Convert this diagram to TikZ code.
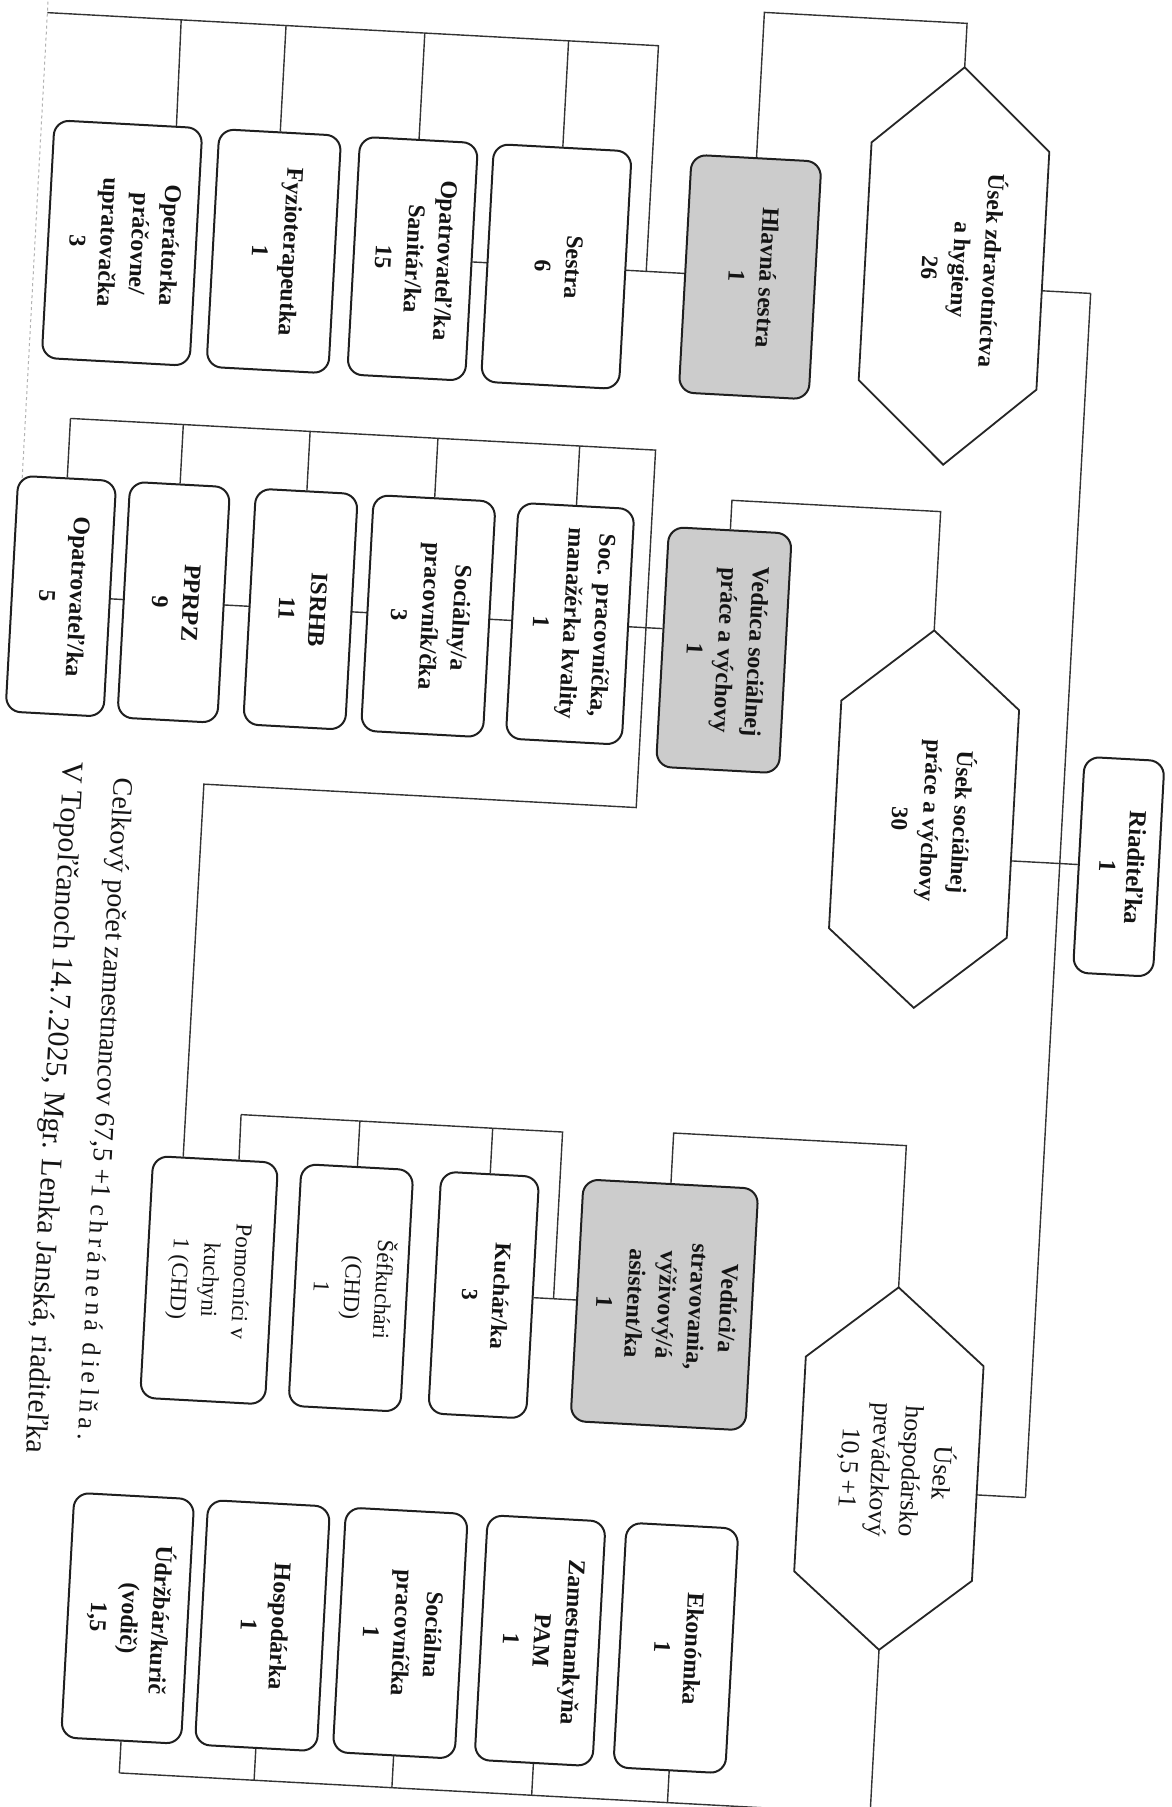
\documentclass[tikz,border=0pt]{standalone}
\usepackage{graphicx}
\usepackage{fontspec}
\setmainfont{Liberation Serif}
\usetikzlibrary{calc}
\pgfdeclarelayer{paper}
\pgfdeclarelayer{wires}
\pgfsetlayers{paper,wires,main}
\newcommand{\rt}[1]{\rotatebox{-90}{\begin{tabular}{@{}c@{}}#1\end{tabular}}}
\newcommand{\hexa}[4]{%
  \coordinate (#1tip) at (919,#2);
  \coordinate (#1bot) at (919,#3);
  \draw[hexline] (#1tip) -- (1008,#2+#4) -- (1008,#3-#4) -- (#1bot) -- (830,#3-#4) -- (830,#2+#4) -- cycle;
}
\begin{document}
\begin{tikzpicture}[x=1pt,y=-1pt,
  orgbox/.style={draw=black!88, line width=2pt, rounded corners=15pt, fill=white, inner sep=0pt,
                 font=\bfseries\fontsize{24}{31}\selectfont, text=black!92},
  leadbox/.style={orgbox, fill=black!20},
  lightbox/.style={orgbox, font=\fontsize{23}{31}\selectfont},
  hexline/.style={draw=black!85, line width=1.8pt, fill=white, line join=miter},
  hextext/.style={inner sep=0pt, font=\bfseries\fontsize{23.5}{31}\selectfont, text=black!92},
  conn/.style={draw=black!80, line width=1.4pt},
  pageedge/.style={draw=black!30, line width=1pt, dash pattern=on 3pt off 3pt},
  foot/.style={inner sep=0pt, anchor=west, rotate=-90, text=black!92}]
\useasboundingbox (0,0) rectangle (1171,1807);
\begin{pgfonlayer}{paper}
  \fill[white] (0,0) rectangle (1171,1807);
\end{pgfonlayer}

\begin{scope}[rotate around={-3.1:(585.5,903.5)}, transform shape]
  % ---------- director ----------
  \node[orgbox, minimum width=80pt, minimum height=216pt, font=\bfseries\fontsize{24.5}{28}\selectfont] (rd) at (1116,838) {\rt{Riaditeľka\\1}};

  % ---------- hexagons ----------
  \hexa{h1}{48}{446}{80}
  \hexa{h2}{612}{990}{75}
  \hexa{h3}{1270}{1633}{74}
  \node[hextext] (h1) at (924,250) {\rt{Úsek zdravotníctva\\a hygieny\\26}};
  \node[hextext] (h2) at (924,802) {\rt{Úsek sociálnej\\práce a výchovy\\30}};
  \node[hextext, font=\fontsize{26}{31}\selectfont] (h3) at (924,1453) {\rt{Úsek\\hospodársko\\prevádzkový\\10,5 +1}};

  % ---------- section 1 ----------
  \node[orgbox, minimum width=148pt, minimum height=238pt] (op) at (87,269) {\rt{Operátorka\\práčovne/\\upratovačka\\3}};
  \node[orgbox, minimum width=122pt, minimum height=238pt] (fy) at (239,269) {\rt{Fyzioterapeutka\\1}};
  \node[orgbox, minimum width=118pt, minimum height=238pt] (os) at (378,269) {\rt{Opatrovateľ/ka\\Sanitár/ka\\15}};
  \node[orgbox, minimum width=138pt, minimum height=238pt] (se) at (522,269) {\rt{Sestra\\6}};
  \node[leadbox, minimum width=130pt, minimum height=238pt] (hl) at (716,269) {\rt{Hlavná sestra\\1}};

  % ---------- section 2 ----------
  \node[orgbox, minimum width=98pt, minimum height=236pt] (o5) at (45,625) {\rt{Opatrovateľ/ka\\5}};
  \node[orgbox, minimum width=100pt, minimum height=236pt] (pp) at (158,625) {\rt{PPRPZ\\9}};
  \node[orgbox, minimum width=102pt, minimum height=236pt] (is) at (285,625) {\rt{ISRHB\\11}};
  \node[orgbox, minimum width=122pt, minimum height=236pt] (sc) at (413,625) {\rt{Sociálny/a\\pracovník/čka\\3}};
  \node[orgbox, minimum width=116pt, minimum height=236pt] (sp) at (555,625) {\rt{Soc. pracovníčka,\\manažérka kvality\\1}};
  \node[leadbox, minimum width=123pt, minimum height=240pt] (vd) at (710,643) {\rt{Vedúca sociálnej\\práce a výchovy\\1}};

  % ---------- section 3 ----------
  \node[lightbox, minimum width=125pt, minimum height=242pt] (pk) at (230,1300) {\rt{Pomocníci v\\kuchyni\\1 (CHD)}};
  \node[lightbox, minimum width=112pt, minimum height=242pt] (sk) at (372,1300) {\rt{Šéfkuchári\\(CHD)\\1}};
  \node[orgbox, minimum width=98pt, minimum height=242pt, font=\bfseries\fontsize{23}{31}\selectfont] (ku) at (505,1300) {\rt{Kuchár/ka\\3}};
  \node[leadbox, minimum width=175pt, minimum height=242pt] (vs) at (686,1300) {\rt{Vedúci/a\\stravovania,\\výživový/á\\asistent/ka\\1}};

  \node[orgbox, minimum width=120pt, minimum height=245pt] (ud) at (167,1642) {\rt{Údržbár/kurič\\(vodič)\\1,5}};
  \node[orgbox, minimum width=122pt, minimum height=245pt] (ho) at (302,1642) {\rt{Hospodárka\\1}};
  \node[orgbox, minimum width=122pt, minimum height=245pt] (so) at (440,1642) {\rt{Sociálna\\pracovníčka\\1}};
  \node[orgbox, minimum width=118pt, minimum height=245pt] (za) at (580,1642) {\rt{Zamestnankyňa\\PAM\\1}};
  \node[orgbox, minimum width=112pt, minimum height=245pt] (ek) at (716,1642) {\rt{Ekonómka\\1}};

  % ---------- footer ----------
  \node[foot, font=\fontsize{28}{34}\selectfont] (f1) at (115,803) {Celkový počet zamestnancov 67,5 +1 {\fontsize{26}{28}\selectfont\addfontfeatures{LetterSpace=18}chránená dielňa.}};
  \node[foot, font=\fontsize{30}{36}\selectfont] (f2) at (64,790) {V Topoľčanoch 14.7.2025, Mgr. Lenka Janská, riaditeľka};

  % ---------- connectors ----------
  \coordinate (tr1) at (1057,267);
  \coordinate (tr2) at (1057,838);
  \coordinate (tr3) at (1057,1473);
  \coordinate (h1r) at (1008,267);
  \coordinate (h2r) at (1008,838);
  \coordinate (h3r) at (1008,1473);
  \coordinate (t1a) at (919,4);   \coordinate (t1b) at (716,4);
  \coordinate (t2a) at (919,493); \coordinate (t2b) at (710,493);
  \coordinate (t3a) at (919,1128); \coordinate (t3b) at (686,1128);
  \coordinate (a0) at (0,43);   \coordinate (a1) at (134,43);  \coordinate (a2) at (239,43);
  \coordinate (a3) at (378,43); \coordinate (a4) at (522,43); \coordinate (a5) at (612,43);
  \coordinate (a6) at (612,269);
  \coordinate (b0) at (45,447);  \coordinate (b1) at (158,447); \coordinate (b2) at (285,447);
  \coordinate (b3) at (413,447); \coordinate (b4) at (555,447); \coordinate (b5) at (631,447);
  \coordinate (b6) at (631,805); \coordinate (b7) at (198,805);
  \coordinate (c0) at (253,1133); \coordinate (c1) at (372,1133); \coordinate (c2) at (505,1133);
  \coordinate (c3) at (575,1133); \coordinate (c4) at (575,1300);
  \coordinate (d0) at (167,1797); \coordinate (d1) at (302,1797); \coordinate (d2) at (440,1797);
  \coordinate (d3) at (580,1797); \coordinate (d4) at (716,1797); \coordinate (d5) at (919,1797);
  \coordinate (e0) at (0,-40); \coordinate (e1) at (0,720);

  \begin{pgfonlayer}{wires}
    % scanned page edge
    \draw[pageedge] (e0) -- (e1);
    % trunk and director
    \draw[conn] (tr1) -- (tr3);
    \draw[conn] (h1r) -- (tr1);
    \draw[conn] (h2r) -- (tr2) -- (rd.west);
    \draw[conn] (h3r) -- (tr3);
    % hexagon to lead boxes
    \draw[conn] (h1tip) -- (t1a) -- (t1b) -- (hl.north);
    \draw[conn] (h2tip) -- (t2a) -- (t2b) -- (vd.north);
    \draw[conn] (h3tip) -- (t3a) -- (t3b) -- (vs.north);
    % section 1
    \draw[conn] (a0) -- (a5) -- (a6);
    \draw[conn] (a1) -- ($(op.north west)!0.82!(op.north east)$);
    \draw[conn] (a2) -- (fy.north);
    \draw[conn] (a3) -- (os.north);
    \draw[conn] (a4) -- (se.north);
    \draw[conn] (os.east) -- (hl.west);
    % section 2
    \draw[conn] (b0) -- (b5) -- (b6) -- (b7) -- ($(pk.north west)!0.244!(pk.north east)$);
    \draw[conn] (b0) -- (o5.north);
    \draw[conn] (b1) -- (pp.north);
    \draw[conn] (b2) -- (is.north);
    \draw[conn] (b3) -- (sc.north);
    \draw[conn] (b4) -- (sp.north);
    \draw[conn] (o5.east) -- ($(vd.north west)!0.425!(vd.south west)$);
    % section 3
    \draw[conn] (c0) -- (c3) -- (c4);
    \draw[conn] (c0) -- ($(pk.north west)!0.684!(pk.north east)$);
    \draw[conn] (c1) -- (sk.north);
    \draw[conn] (c2) -- (ku.north);
    \draw[conn] (ku.east) -- (vs.west);
    \draw[conn] (h3bot) -- (d5) -- (d0);
    \draw[conn] (ud.south) -- (d0);
    \draw[conn] (ho.south) -- (d1);
    \draw[conn] (so.south) -- (d2);
    \draw[conn] (za.south) -- (d3);
    \draw[conn] (ek.south) -- (d4);
  \end{pgfonlayer}
\end{scope}
\end{tikzpicture}
\end{document}
